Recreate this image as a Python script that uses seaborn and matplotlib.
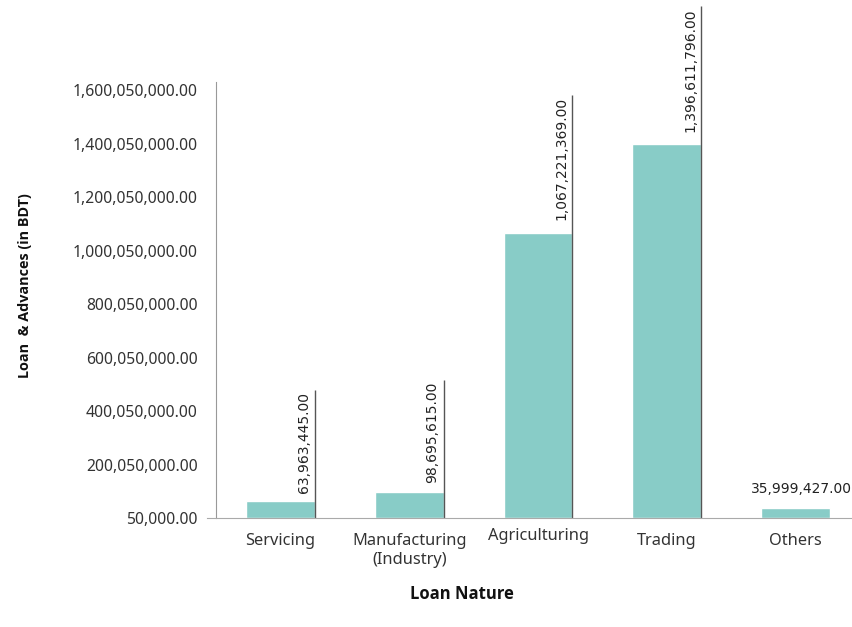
import matplotlib
matplotlib.use("Agg")
import matplotlib.pyplot as plt
import matplotlib.ticker as ticker
import matplotlib.transforms as mtransforms
import pandas as pd
import seaborn as sns

categories = ["Servicing", "Manufacturing\n(Industry)", "Agriculturing", "Trading", "Others"]
values = [63963445.00, 98695615.00, 1067221369.00, 1396611796.00, 35999427.00]
value_labels = ["63,963,445.00", "98,695,615.00", "1,067,221,369.00", "1,396,611,796.00", "35,999,427.00"]
y_ticks = [50000 + 200000000 * i for i in range(9)]


def main():
    sns.set_style("white")
    plt.rcParams["font.family"] = ["Noto Sans", "DejaVu Sans"]

    df = pd.DataFrame({"Loan Nature": categories, "Amount": values})

    fig = plt.figure(figsize=(8.53, 6.27), dpi=100)
    ax = fig.add_axes([216 / 853, 109 / 627, 644 / 853, 436 / 627])

    sns.barplot(data=df, x="Loan Nature", y="Amount", color="#88ccc7",
                saturation=1, width=0.535, ax=ax)

    ax.set_xlim(-0.5, 4.5)
    ax.set_ylim(50000, 1.63e9)
    ax.set_yticks(y_ticks)
    ax.yaxis.set_major_formatter(ticker.FuncFormatter(lambda v, p: f"{v:,.2f}"))
    ax.tick_params(axis="y", length=0, pad=13, labelsize=11.3, labelcolor="#333333")
    ax.tick_params(axis="x", length=0, pad=11, labelsize=11.8, labelcolor="#333333")

    sns.despine(ax=ax, top=True, right=True)
    ax.spines["left"].set_color("#999999")
    ax.spines["bottom"].set_color("#aaaaaa")
    ax.spines["bottom"].set_bounds(-0.57, 4.5)

    # Agriculturing label sits a bit higher in the original
    xlabels = list(categories)
    xlabels[2] = ""
    ax.set_xticks(range(len(categories)))
    ax.set_xticklabels(xlabels)
    blend = mtransforms.blended_transform_factory(ax.transData, ax.transAxes)
    ax.text(2, -0.022, categories[2], transform=blend, ha="center", va="top",
            fontsize=11.8, color="#333333")

    ax.set_xlabel("Loan Nature", fontsize=12, fontweight="bold", color="#111111",
                  family="Open Sans")
    ax.xaxis.set_label_coords(0.382, -0.153)
    ax.set_ylabel("Loan  & Advances (in BDT)", fontsize=10.4, fontweight="bold",
                  color="#111111", family="Open Sans")
    ax.yaxis.set_label_coords(-0.285, 0.534)

    # value labels: vertical with a leader line on the bar's right edge
    half = 0.535 / 2
    texts = []
    for i, (v, s) in enumerate(zip(values, value_labels)):
        if i == len(values) - 1:
            ax.annotate(s, xy=(i, v), xytext=(4, 9), textcoords="offset points",
                        ha="center", va="bottom", fontsize=10, family="DejaVu Sans",
                        color="#222222", annotation_clip=False)
            continue
        gap = 6 if v < 5e8 else 9
        t = ax.annotate(s, xy=(i + half, v), xytext=(-3, gap), textcoords="offset points",
                        ha="right", va="bottom", rotation=90, fontsize=10,
                        family="DejaVu Sans", color="#222222", annotation_clip=False)
        texts.append((i, t))

    fig.canvas.draw()
    inv = ax.transData.inverted()
    for i, t in texts:
        bb = t.get_window_extent()
        top = inv.transform((0, bb.y1 + 2))[1]
        ax.vlines(i + half, 0, top, color="#555555", lw=1, clip_on=False)

    fig.savefig("out.png", dpi=100)


if __name__ == "__main__":
    main()
